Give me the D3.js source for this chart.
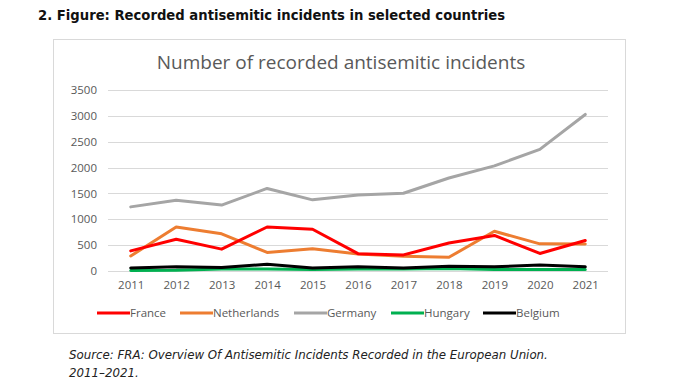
<!DOCTYPE html>
<html>
<head>
<meta charset="utf-8">
<script src="https://cdn.jsdelivr.net/npm/d3@7"></script>
<style>
  body { margin: 0; background: #fff; }
</style>
</head>
<body>
<svg id="chart"></svg>
<script>
// data
var years = ['2011','2012','2013','2014','2015','2016','2017','2018','2019','2020','2021'];
var france      = [389, 614, 423, 851, 808, 335, 311, 541, 687, 339, 589];
var netherlands = [290, 850, 720, 360, 430, 330, 285, 265, 769, 525, 520];
var germany     = [1240, 1370, 1275, 1596, 1376, 1468, 1504, 1799, 2032, 2351, 3027];
var hungary     = [10, 15, 40, 40, 30, 40, 40, 50, 30, 30, 30];
var belgium     = [60, 80, 70, 130, 60, 80, 60, 90, 80, 115, 80];
var yTicks = [0, 500, 1000, 1500, 2000, 2500, 3000, 3500];

var series = [
  {name: 'France', values: france, color: '#ff0000'},
  {name: 'Netherlands', values: netherlands, color: '#ed7d31'},
  {name: 'Germany', values: germany, color: '#a5a5a5'},
  {name: 'Hungary', values: hungary, color: '#00b050'},
  {name: 'Belgium', values: belgium, color: '#000000'}
];

var W = 678, H = 381;
var plot = {left: 108, right: 608, top: 90, bottom: 271};

var svg = d3.select('#chart')
  .attr('width', W)
  .attr('height', H);

// page heading
svg.append('text')
  .attr('x', 38)
  .attr('y', 20)
  .style('font-family', 'DejaVu Sans')
  .style('font-weight', 'bold')
  .style('font-size', '13.2px')
  .attr('fill', '#111')
  .text('2. Figure: Recorded antisemitic incidents in selected countries');

// chart frame
svg.append('rect')
  .attr('x', 53.5)
  .attr('y', 39.5)
  .attr('width', 572)
  .attr('height', 294)
  .attr('fill', '#fff')
  .attr('stroke', '#d9d9d9');

svg.append('text')
  .attr('x', 341)
  .attr('y', 69)
  .attr('text-anchor', 'middle')
  .style('font-family', 'Open Sans')
  .style('font-size', '19px')
  .attr('fill', '#595959')
  .text('Number of recorded antisemitic incidents');

var x = d3.scalePoint()
  .domain(years)
  .range([plot.left, plot.right])
  .padding(0.5);

var y = d3.scaleLinear()
  .domain([0, 3500])
  .range([plot.bottom, plot.top]);

// gridlines
svg.append('g')
  .selectAll('line')
  .data(yTicks)
  .enter()
  .append('line')
    .attr('x1', plot.left)
    .attr('x2', plot.right)
    .attr('y1', d => Math.round(y(d)) + 0.5)
    .attr('y2', d => Math.round(y(d)) + 0.5)
    .attr('stroke', '#d9d9d9')
    .attr('stroke-width', 1);

// y axis
var yAxis = d3.axisLeft(y)
  .tickValues(yTicks)
  .tickFormat(d3.format('d'))
  .tickSize(0)
  .tickPadding(11);
var gy = svg.append('g')
  .attr('transform', 'translate(' + plot.left + ',0)')
  .call(yAxis);
gy.select('.domain').remove();
gy.selectAll('text')
  .style('font-family', 'Open Sans')
  .style('font-size', '11.5px')
  .attr('fill', '#595959');

// x axis
var xAxis = d3.axisBottom(x).tickSize(0).tickPadding(10);
var gx = svg.append('g')
  .attr('transform', 'translate(0,' + plot.bottom + ')')
  .call(xAxis);
gx.select('.domain').remove();
gx.selectAll('text')
  .style('font-family', 'Open Sans')
  .style('font-size', '11.5px')
  .attr('fill', '#595959');

var line = d3.line()
  .x((d, i) => x(years[i]))
  .y(d => y(d));

// draw Hungary before Belgium so the black line sits on top
var drawOrder = [2, 1, 0, 3, 4];
svg.append('g')
  .selectAll('path')
  .data(drawOrder.map(i => series[i]))
  .enter()
  .append('path')
    .attr('d', d => line(d.values))
    .attr('fill', 'none')
    .attr('stroke', d => d.color)
    .attr('stroke-width', 3)
    .attr('stroke-linejoin', 'round')
    .attr('stroke-linecap', 'round');

// legend
var legendX = [97, 180, 294, 391, 483];
var lg = svg.append('g')
  .selectAll('g')
  .data(series)
  .enter()
  .append('g')
    .attr('transform', (d, i) => 'translate(' + legendX[i] + ',313)');
lg.append('line')
  .attr('x1', 0)
  .attr('x2', 33)
  .attr('stroke', d => d.color)
  .attr('stroke-width', 3);
lg.append('text')
  .attr('x', 33)
  .attr('y', 4)
  .style('font-family', 'Open Sans')
  .style('font-size', '11.5px')
  .attr('fill', '#595959')
  .text(d => d.name);

// source note
var src = svg.append('text')
  .style('font-family', 'DejaVu Sans')
  .style('font-style', 'italic')
  .style('font-size', '11.8px')
  .attr('fill', '#222');
src.append('tspan')
  .attr('x', 69)
  .attr('y', 359)
  .text('Source: FRA: Overview Of Antisemitic Incidents Recorded in the European Union.');
src.append('tspan')
  .attr('x', 69)
  .attr('y', 377)
  .text('2011\u20132021.');
</script>
</body>
</html>
